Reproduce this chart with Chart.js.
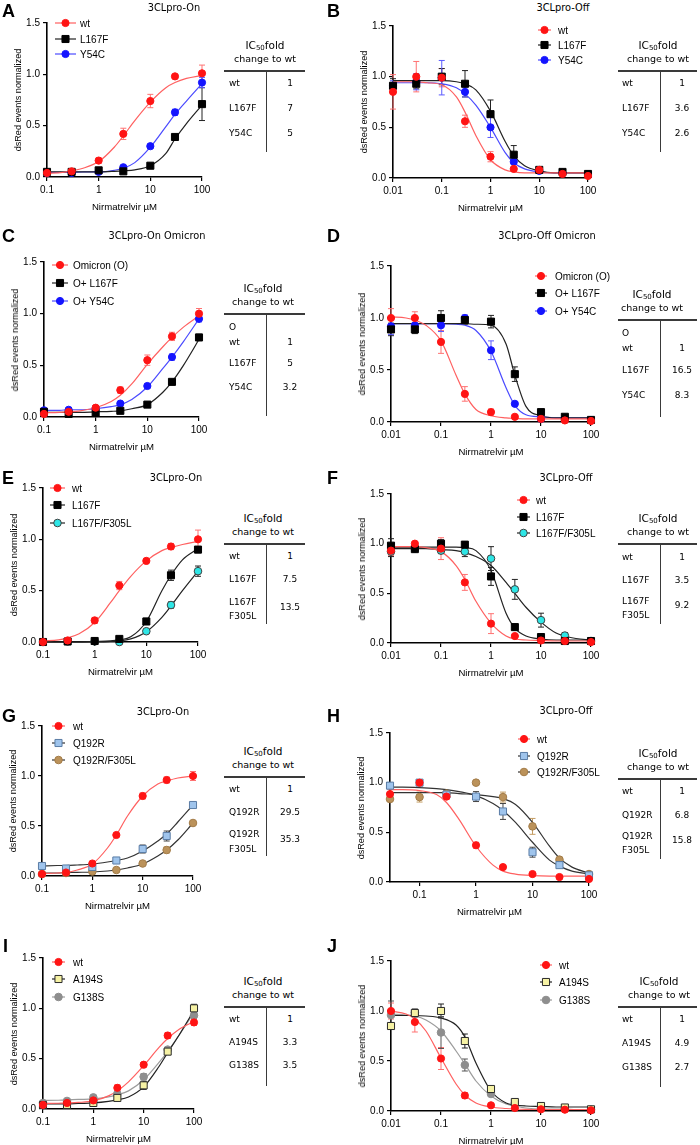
<!DOCTYPE html>
<html>
<head>
<meta charset="utf-8">
<script src="https://cdn.jsdelivr.net/npm/chart.js@4.4.0/dist/chart.umd.min.js"></script>
<style>
  body { margin: 0; width: 700px; height: 1145px; position: relative; overflow: hidden; background: #fff; font-family: "Liberation Sans", Arial, sans-serif; color: #000; }
  .abs { position: absolute; white-space: nowrap; }
  canvas { position: absolute; }
  .letter { font: bold 18px "Liberation Sans", Arial, sans-serif; line-height: 20px; transform: translateY(-50%); }
  .ttl { font: 9.8px "DejaVu Sans", sans-serif; transform: translate(-50%, -50%); }
  .xt { font: 9.6px "Liberation Sans", Arial, sans-serif; transform: translate(-50%, -50%); }
  .yt { font: 9.1px "Liberation Sans", Arial, sans-serif; transform: translate(-50%, -50%) rotate(-90deg); }
  .lg { font: 10px "Liberation Sans", Arial, sans-serif; transform: translateY(-50%); }
  .th1 { font: 10.5px "DejaVu Sans", sans-serif; transform: translate(-50%, -50%); }
  .th1 sub { font-size: 7px; vertical-align: -1px; }
  .th2 { font: 9.5px "DejaVu Sans", sans-serif; transform: translate(-50%, -50%); }
  .tr { font: 9px "DejaVu Sans", sans-serif; transform: translateY(-50%); }
  .tv { font: 9px "DejaVu Sans", sans-serif; transform: translate(-50%, -50%); }
  .rule { position: absolute; background: #3a3a3a; }
</style>
</head>
<body>
<script>
// concentrations (µM)
const onX = [0.1, 0.3, 1, 3, 10, 30, 100];
const offX = [0.01, 0.03, 0.1, 0.3, 1, 3, 10, 30, 100];
const offXH = [0.03, 0.1, 0.3, 1, 3, 10, 30, 100];
// x positions at which the fitted curves were read
const onFitX = [0.1, 0.2, 0.3, 0.5, 1, 2, 3, 5, 10, 20, 30, 50, 100];
const offFitX = [0.01, 0.02, 0.03, 0.05, 0.1, 0.2, 0.3, 0.5, 1, 2, 3, 5, 10, 20, 30, 50, 100];
const offFitXH = [0.03, 0.05, 0.1, 0.2, 0.3, 0.5, 1, 2, 3, 5, 10, 20, 30, 50, 100];
const onTicks = [0.1, 1, 10, 100];
const offTicks = [0.01, 0.1, 1, 10, 100];
const hTicks = [0.1, 1, 10, 100];
const yTicks = [0, 0.5, 1, 1.5];

// A - 3CLpro-On
const aWt = [0.04, 0.055, 0.16, 0.42, 0.74, 0.98, 1.01];
const aWtErr = [0.01, 0.01, 0.025, 0.055, 0.065, 0.015, 0.08];
const aWtFit = [0.035, 0.045, 0.06, 0.085, 0.15, 0.29, 0.40, 0.55, 0.73, 0.87, 0.92, 0.96, 0.99];
const aL167F = [0.05, 0.05, 0.065, 0.055, 0.11, 0.39, 0.71];
const aL167FErr = [0.01, 0.01, 0.01, 0.01, 0.01, 0.015, 0.16];
const aL167FFit = [0.05, 0.05, 0.05, 0.05, 0.05, 0.055, 0.06, 0.07, 0.11, 0.23, 0.37, 0.52, 0.70];
const aY54C = [0.04, 0.04, 0.05, 0.095, 0.30, 0.63, 0.92];
const aY54CErr = [0.01, 0.01, 0.01, 0.01, 0.02, 0.03, 0.05];
const aY54CFit = [0.045, 0.045, 0.045, 0.05, 0.05, 0.065, 0.085, 0.14, 0.29, 0.49, 0.61, 0.74, 0.91];

// B - 3CLpro-Off
const bWt = [0.85, 1.0, 0.99, 0.56, 0.21, 0.09, 0.08, 0.04, 0.02];
const bWtErr = [0.17, 0.15, 0.09, 0.06, 0.05, 0.01, 0.01, 0.01, 0.01];
const bWtFit = [0.95, 0.95, 0.95, 0.94, 0.92, 0.80, 0.65, 0.42, 0.18, 0.08, 0.06, 0.05, 0.05, 0.05, 0.05, 0.05, 0.05];
const bL167F = [0.91, 0.93, 1.0, 0.93, 0.63, 0.23, 0.08, 0.06, 0.04];
const bL167FErr = [0.07, 0.05, 0.08, 0.13, 0.14, 0.09, 0.02, 0.01, 0.01];
const bL167FFit = [0.96, 0.96, 0.96, 0.96, 0.96, 0.95, 0.93, 0.87, 0.66, 0.36, 0.22, 0.12, 0.07, 0.05, 0.05, 0.05, 0.05];
const bY54C = [0.91, 0.95, 0.99, 0.85, 0.50, 0.16, 0.07, 0.05, 0.04];
const bY54CErr = [0.05, 0.08, 0.17, 0.05, 0.10, 0.02, 0.01, 0.01, 0.01];
const bY54CFit = [0.94, 0.94, 0.94, 0.94, 0.93, 0.89, 0.83, 0.72, 0.50, 0.25, 0.15, 0.09, 0.06, 0.05, 0.05, 0.05, 0.05];

// C - 3CLpro-On Omicron
const cO = [0.03, 0.05, 0.09, 0.26, 0.55, 0.78, 1.0];
const cOErr = [0.01, 0.01, 0.01, 0.03, 0.05, 0.04, 0.05];
const cOFit = [0.04, 0.045, 0.05, 0.06, 0.09, 0.15, 0.21, 0.32, 0.51, 0.68, 0.77, 0.87, 0.98];
const cL167F = [0.05, 0.03, 0.04, 0.06, 0.12, 0.34, 0.77];
const cL167FErr = [0.01, 0.01, 0.01, 0.01, 0.01, 0.02, 0.03];
const cL167FFit = [0.045, 0.045, 0.045, 0.045, 0.05, 0.055, 0.06, 0.08, 0.12, 0.24, 0.34, 0.50, 0.75];
const cY54C = [0.065, 0.07, 0.085, 0.13, 0.30, 0.58, 0.95];
const cY54CErr = [0.01, 0.01, 0.01, 0.01, 0.02, 0.03, 0.03];
const cY54CFit = [0.065, 0.065, 0.07, 0.07, 0.08, 0.10, 0.12, 0.17, 0.29, 0.47, 0.58, 0.73, 0.95];

// D - 3CLpro-Off Omicron
const dO = [1.0, 1.0, 0.77, 0.27, 0.095, 0.05, 0.03, 0.015, 0.01];
const dOErr = [0.09, 0.06, 0.11, 0.07, 0.03, 0.01, 0.01, 0.01, 0.01];
const dOFit = [1.01, 1.0, 0.98, 0.93, 0.78, 0.45, 0.27, 0.12, 0.06, 0.04, 0.035, 0.03, 0.03, 0.03, 0.03, 0.03, 0.03];
const dL167F = [0.89, 0.89, 1.0, 0.98, 0.965, 0.46, 0.095, 0.05, 0.02];
const dL167FErr = [0.06, 0.04, 0.07, 0.04, 0.06, 0.07, 0.02, 0.01, 0.01];
const dL167FFit = [0.945, 0.945, 0.945, 0.945, 0.945, 0.945, 0.945, 0.94, 0.93, 0.75, 0.45, 0.15, 0.06, 0.04, 0.04, 0.04, 0.04];
const dY54C = [0.92, 0.93, 0.93, 1.0, 0.69, 0.175, 0.03, 0.04, 0.02];
const dY54CErr = [0.08, 0.02, 0.06, 0.03, 0.09, 0.02, 0.01, 0.01, 0.01];
const dY54CFit = [0.945, 0.945, 0.945, 0.945, 0.945, 0.94, 0.93, 0.88, 0.68, 0.33, 0.16, 0.07, 0.05, 0.04, 0.04, 0.04, 0.04];

// E - 3CLpro-On
const eWt = [0, 0.015, 0.21, 0.55, 0.79, 0.93, 1.0];
const eWtErr = [0.005, 0.01, 0.03, 0.04, 0.015, 0.03, 0.09];
const eWtFit = [0.01, 0.02, 0.04, 0.08, 0.19, 0.38, 0.50, 0.64, 0.79, 0.89, 0.92, 0.95, 0.98];
const eL167F = [0, 0.005, 0.01, 0.03, 0.20, 0.65, 0.90];
const eL167FErr = [0.005, 0.005, 0.005, 0.01, 0.03, 0.05, 0.03];
const eL167FFit = [0, 0, 0, 0, 0.005, 0.01, 0.02, 0.05, 0.20, 0.50, 0.65, 0.80, 0.91];
const eF305L = [0, 0.005, 0.005, 0, 0.105, 0.36, 0.69];
const eF305LErr = [0, 0, 0, 0, 0.01, 0.03, 0.05];
const eF305LFit = [0, 0, 0, 0, 0, 0.005, 0.01, 0.03, 0.10, 0.24, 0.35, 0.50, 0.69];

// F - 3CLpro-Off
const fWt = [0.93, 1.0, 0.95, 0.61, 0.195, 0.07, 0.025, 0.02, 0.01];
const fWtErr = [0.05, 0.01, 0.11, 0.08, 0.10, 0.01, 0.01, 0.01, 0.01];
const fWtFit = [0.97, 0.97, 0.97, 0.96, 0.92, 0.78, 0.64, 0.42, 0.20, 0.07, 0.04, 0.03, 0.025, 0.02, 0.02, 0.02, 0.02];
const fL167F = [0.98, 0.945, 1.0, 0.99, 0.67, 0.16, 0.06, 0.02, 0.02];
const fL167FErr = [0.07, 0.02, 0.04, 0.03, 0.09, 0.03, 0.01, 0.01, 0.01];
const fL167FFit = [0.965, 0.965, 0.965, 0.965, 0.965, 0.965, 0.96, 0.93, 0.73, 0.30, 0.15, 0.07, 0.04, 0.03, 0.03, 0.03, 0.03];
const fF305L = [0.92, 0.95, 0.93, 0.92, 0.85, 0.54, 0.23, 0.075, 0.02];
const fF305LErr = [0.05, 0.02, 0.03, 0.05, 0.12, 0.10, 0.07, 0.03, 0.01];
const fF305LFit = [0.95, 0.95, 0.95, 0.95, 0.94, 0.93, 0.91, 0.87, 0.78, 0.61, 0.50, 0.36, 0.21, 0.10, 0.07, 0.045, 0.03];

// G - 3CLpro-On
const gWt = [0.02, 0.035, 0.125, 0.41, 0.80, 0.96, 1.0];
const gWtErr = [0.01, 0.01, 0.02, 0.015, 0.03, 0.03, 0.045];
const gWtFit = [0.025, 0.03, 0.035, 0.06, 0.12, 0.28, 0.41, 0.60, 0.80, 0.92, 0.95, 0.98, 1.0];
const gQ192R = [0.10, 0.075, 0.09, 0.155, 0.27, 0.40, 0.71];
const gQ192RErr = [0.01, 0.01, 0.02, 0.01, 0.04, 0.05, 0.015];
const gQ192RFit = [0.10, 0.105, 0.105, 0.11, 0.12, 0.14, 0.155, 0.18, 0.25, 0.35, 0.42, 0.54, 0.71];
const gF305L = [0.02, 0.03, 0.045, 0.06, 0.125, 0.26, 0.53];
const gF305LErr = [0.01, 0.01, 0.01, 0.01, 0.01, 0.03, 0.01];
const gF305LFit = [0.03, 0.03, 0.035, 0.037, 0.04, 0.05, 0.06, 0.08, 0.12, 0.20, 0.26, 0.36, 0.53];

// H - 3CLpro-Off
const hWt = [0.885, 1.0, 0.86, 0.37, 0.15, 0.08, 0.05, 0.03];
const hWtErr = [0.05, 0.02, 0.03, 0.03, 0.02, 0.01, 0.01, 0.01];
const hWtFit = [0.93, 0.93, 0.92, 0.88, 0.80, 0.63, 0.36, 0.17, 0.11, 0.08, 0.065, 0.06, 0.06, 0.06, 0.06];
const hQ192R = [0.97, 1.0, 0.88, 0.86, 0.71, 0.30, 0.17, 0.067];
const hQ192RErr = [0.02, 0.01, 0.04, 0.05, 0.08, 0.05, 0.01, 0.01];
const hQ192RFit = [0.955, 0.955, 0.95, 0.94, 0.93, 0.91, 0.87, 0.79, 0.72, 0.60, 0.40, 0.22, 0.16, 0.11, 0.08];
const hF305L = [0.835, 0.855, 0.89, 1.0, 0.855, 0.56, 0.225, 0.08];
const hF305LErr = [0.02, 0.05, 0.02, 0.01, 0.05, 0.08, 0.01, 0.01];
const hF305LFit = [0.90, 0.90, 0.90, 0.90, 0.90, 0.89, 0.88, 0.86, 0.84, 0.78, 0.60, 0.36, 0.24, 0.15, 0.09];

// I
const iWt = [0.04, 0.06, 0.085, 0.21, 0.44, 0.73, 0.86];
const iWtErr = [0.01, 0.01, 0.01, 0.03, 0.02, 0.03, 0.03];
const iWtFit = [0.055, 0.057, 0.06, 0.065, 0.08, 0.13, 0.18, 0.27, 0.43, 0.61, 0.70, 0.79, 0.87];
const iA194S = [0.04, 0.04, 0.06, 0.11, 0.235, 0.57, 1.0];
const iA194SErr = [0.01, 0.01, 0.01, 0.01, 0.04, 0.03, 0.04];
const iA194SFit = [0.05, 0.05, 0.05, 0.055, 0.06, 0.075, 0.09, 0.12, 0.22, 0.42, 0.56, 0.73, 0.98];
const iG138S = [0.06, 0.08, 0.115, 0.15, 0.32, 0.59, 0.93];
const iG138SErr = [0.01, 0.01, 0.01, 0.01, 0.03, 0.02, 0.03];
const iG138SFit = [0.085, 0.087, 0.09, 0.095, 0.10, 0.12, 0.14, 0.18, 0.29, 0.46, 0.57, 0.73, 0.96];

// J
const jWt = [1.0, 0.89, 0.525, 0.155, 0.057, 0.03, 0.017, 0.013, 0.007];
const jWtErr = [0.08, 0.10, 0.11, 0.03, 0.01, 0.01, 0.01, 0.01, 0.01];
const jWtFit = [1.0, 0.97, 0.92, 0.80, 0.53, 0.27, 0.16, 0.08, 0.04, 0.025, 0.02, 0.017, 0.015, 0.015, 0.015, 0.015, 0.015];
const jA194S = [0.85, 0.98, 1.0, 0.70, 0.22, 0.09, 0.05, 0.035, 0.017];
const jA194SErr = [0.03, 0.04, 0.07, 0.07, 0.02, 0.01, 0.01, 0.01, 0.01];
const jA194SFit = [0.955, 0.955, 0.955, 0.95, 0.93, 0.86, 0.74, 0.48, 0.20, 0.08, 0.06, 0.05, 0.045, 0.04, 0.04, 0.04, 0.04];
const jG138S = [0.96, 0.985, 0.785, 0.46, 0.17, 0.08, 0.04, 0.02, 0.013];
const jG138SErr = [0.14, 0.03, 0.16, 0.06, 0.02, 0.01, 0.01, 0.01, 0.01];
const jG138SFit = [0.97, 0.96, 0.95, 0.91, 0.80, 0.60, 0.47, 0.30, 0.15, 0.07, 0.05, 0.03, 0.02, 0.02, 0.02, 0.015, 0.015];

// IC50 tables
const tblLabels3 = (a, b) => [["wt"], [a], [b]];
const aRows = tblLabels3("L167F", "Y54C"), aVals = ["1", "7", "5"];
const bRows = tblLabels3("L167F", "Y54C"), bVals = ["1", "3.6", "2.6"];
const cRows = [["O", "wt"], ["L167F"], ["Y54C"]], cVals = ["1", "5", "3.2"];
const dRows = [["O", "wt"], ["L167F"], ["Y54C"]], dVals = ["1", "16.5", "8.3"];
const eRows = [["wt"], ["L167F"], ["L167F", "F305L"]], eVals = ["1", "7.5", "13.5"];
const fRows = [["wt"], ["L167F"], ["L167F", "F305L"]], fVals = ["1", "3.5", "9.2"];
const gRows = [["wt"], ["Q192R"], ["Q192R", "F305L"]], gVals = ["1", "29.5", "35.3"];
const hRows = [["wt"], ["Q192R"], ["Q192R", "F305L"]], hVals = ["1", "6.8", "15.8"];
const iRows = tblLabels3("A194S", "G138S"), iVals = ["1", "3.3", "3.5"];
const jRows = tblLabels3("A194S", "G138S"), jVals = ["1", "4.9", "2.7"];

// marker styles
const sty = {
  red:    { fill: "#ff1414", edge: "#ff1414", line: "#ff6060", err: "#ff7272", shape: "circle", r: 3.6 },
  black:  { fill: "#000000", edge: "#000000", line: "#222222", err: "#222222", shape: "rect", r: 5 },
  blue:   { fill: "#1414ff", edge: "#1414ff", line: "#4a4aff", err: "#5a5aff", shape: "circle", r: 3.6 },
  cyan:   { fill: "#2ee6e6", edge: "#404040", line: "#222222", err: "#222222", shape: "circle", r: 3.8 },
  lblue:  { fill: "#9fc4ec", edge: "#5b7da6", line: "#333333", err: "#444444", shape: "rect", r: 5 },
  tan:    { fill: "#bb925a", edge: "#a37c48", line: "#333333", err: "#c49c62", shape: "circle", r: 3.8 },
  yellow: { fill: "#f6f2a4", edge: "#2a2a2a", line: "#222222", err: "#222222", shape: "rect", r: 5 },
  gray:   { fill: "#8e8e8e", edge: "#8e8e8e", line: "#9c9c9c", err: "#555555", shape: "circle", r: 3.8 },
};

const panels = [
  { letter: "A", lx: 2, ly: 11, title: "3CLpro-On", tx: 174, ty: 7, plot: [47, 23, 202, 177], xMin: 0.1, ticks: onTicks,
    series: [
      { name: "wt", s: "red", x: onX, y: aWt, e: aWtErr, fx: onFitX, fy: aWtFit },
      { name: "L167F", s: "black", x: onX, y: aL167F, e: aL167FErr, fx: onFitX, fy: aL167FFit },
      { name: "Y54C", s: "blue", x: onX, y: aY54C, e: aY54CErr, fx: onFitX, fy: aY54CFit },
    ],
    legend: { x: 55, w: 21, tx: 80, ys: [23, 39, 54] },
    table: { side: "L", hy: 71, hx: 265, bottom: 81, rows: aRows, vals: aVals, ry: [[12], [37], [62]], vy: [12, 37, 62] } },
  { letter: "B", lx: 327, ly: 11, title: "3CLpro-Off", tx: 563, ty: 7, plot: [393, 26, 588, 178], xMin: 0.01, ticks: offTicks,
    series: [
      { name: "wt", s: "red", x: offX, y: bWt, e: bWtErr, fx: offFitX, fy: bWtFit },
      { name: "L167F", s: "black", x: offX, y: bL167F, e: bL167FErr, fx: offFitX, fy: bL167FFit },
      { name: "Y54C", s: "blue", x: offX, y: bY54C, e: bY54CErr, fx: offFitX, fy: bY54CFit },
    ],
    legend: { x: 538, w: 13, tx: 558, ys: [30, 45, 60] },
    table: { side: "R", hy: 71, hx: 658, bottom: 81, rows: bRows, vals: bVals, ry: [[12], [37], [62]], vy: [12, 37, 62] } },
  { letter: "C", lx: 2, ly: 236, title: "3CLpro-On Omicron", tx: 157, ty: 235, plot: [44, 262, 199, 417], xMin: 0.1, ticks: onTicks,
    series: [
      { name: "Omicron (O)", s: "red", x: onX, y: cO, e: cOErr, fx: onFitX, fy: cOFit },
      { name: "O+ L167F", s: "black", x: onX, y: cL167F, e: cL167FErr, fx: onFitX, fy: cL167FFit },
      { name: "O+ Y54C", s: "blue", x: onX, y: cY54C, e: cY54CErr, fx: onFitX, fy: cY54CFit },
    ],
    legend: { x: 52, w: 16, tx: 73, ys: [265, 283, 301] },
    table: { side: "L", hy: 314, hx: 263, bottom: 102, rows: cRows, vals: cVals, ry: [[13, 27.5], [48.5], [73]], vy: [27.5, 48.5, 73] } },
  { letter: "D", lx: 327, ly: 236, title: "3CLpro-Off Omicron", tx: 547, ty: 235, plot: [391, 266, 591, 422], xMin: 0.01, ticks: offTicks,
    series: [
      { name: "Omicron (O)", s: "red", x: offX, y: dO, e: dOErr, fx: offFitX, fy: dOFit },
      { name: "O+ L167F", s: "black", x: offX, y: dL167F, e: dL167FErr, fx: offFitX, fy: dL167FFit },
      { name: "O+ Y54C", s: "blue", x: offX, y: dY54C, e: dY54CErr, fx: offFitX, fy: dY54CFit },
    ],
    legend: { x: 535, w: 12, tx: 555, ys: [276, 293, 311] },
    table: { side: "R", hy: 320, hx: 652, bottom: 97, rows: dRows, vals: dVals, ry: [[12.5, 27.7], [50], [75]], vy: [27.7, 50, 75] } },
  { letter: "E", lx: 2, ly: 478, title: "3CLpro-On", tx: 176, ty: 477, plot: [43, 488, 198, 642], xMin: 0.1, ticks: onTicks,
    series: [
      { name: "wt", s: "red", x: onX, y: eWt, e: eWtErr, fx: onFitX, fy: eWtFit },
      { name: "L167F", s: "black", x: onX, y: eL167F, e: eL167FErr, fx: onFitX, fy: eL167FFit },
      { name: "L167F/F305L", s: "cyan", x: onX, y: eF305L, e: eF305LErr, fx: onFitX, fy: eF305LFit },
    ],
    legend: { x: 50, w: 15, tx: 72, ys: [488, 505, 523] },
    table: { side: "L", hy: 544, hx: 263, bottom: 80, rows: eRows, vals: eVals, ry: [[12], [35.3], [57.7, 71.7]], vy: [12, 35.3, 62.7] } },
  { letter: "F", lx: 327, ly: 478, title: "3CLpro-Off", tx: 566, ty: 477, plot: [391, 494, 591, 643], xMin: 0.01, ticks: offTicks,
    series: [
      { name: "wt", s: "red", x: offX, y: fWt, e: fWtErr, fx: offFitX, fy: fWtFit },
      { name: "L167F", s: "black", x: offX, y: fL167F, e: fL167FErr, fx: offFitX, fy: fL167FFit },
      { name: "L167F/F305L", s: "cyan", x: offX, y: fF305L, e: fF305LErr, fx: offFitX, fy: fF305LFit },
    ],
    legend: { x: 517, w: 13, tx: 536, ys: [500, 517, 533] },
    table: { side: "R", hy: 544, hx: 658, bottom: 80, rows: fRows, vals: fVals, ry: [[13.4], [35.7], [57.4, 70.7]], vy: [13.4, 35.7, 61] } },
  { letter: "G", lx: 2, ly: 716, title: "3CLpro-On", tx: 163, ty: 711, plot: [42, 726, 193, 876], xMin: 0.1, ticks: onTicks,
    series: [
      { name: "wt", s: "red", x: onX, y: gWt, e: gWtErr, fx: onFitX, fy: gWtFit },
      { name: "Q192R", s: "lblue", x: onX, y: gQ192R, e: gQ192RErr, fx: onFitX, fy: gQ192RFit },
      { name: "Q192R/F305L", s: "tan", x: onX, y: gF305L, e: gF305LErr, fx: onFitX, fy: gF305LFit },
    ],
    legend: { x: 52, w: 13, tx: 73, ys: [726, 743, 760] },
    table: { side: "L", hy: 777, hx: 263, bottom: 79, rows: gRows, vals: gVals, ry: [[12.3], [35], [57.3, 71.6]], vy: [12.3, 35, 62.3] } },
  { letter: "H", lx: 327, ly: 716, title: "3CLpro-Off", tx: 566, ty: 710, plot: [390, 733, 589, 882], xMin: 0.03, ticks: hTicks,
    series: [
      { name: "wt", s: "red", x: offXH, y: hWt, e: hWtErr, fx: offFitXH, fy: hWtFit },
      { name: "Q192R", s: "lblue", x: offXH, y: hQ192R, e: hQ192RErr, fx: offFitXH, fy: hQ192RFit },
      { name: "Q192R/F305L", s: "tan", x: offXH, y: hF305L, e: hF305LErr, fx: offFitXH, fy: hF305LFit },
    ],
    legend: { x: 518, w: 12, tx: 537, ys: [739, 756, 772] },
    table: { side: "R", hy: 779, hx: 658, bottom: 80, rows: hRows, vals: hVals, ry: [[12.4], [35.7], [57.4, 71.4]], vy: [12.4, 35.7, 61.4] } },
  { letter: "I", lx: 3, ly: 946, title: "", plot: [43, 958, 194, 1109], xMin: 0.1, ticks: onTicks,
    series: [
      { name: "wt", s: "red", x: onX, y: iWt, e: iWtErr, fx: onFitX, fy: iWtFit },
      { name: "A194S", s: "yellow", x: onX, y: iA194S, e: iA194SErr, fx: onFitX, fy: iA194SFit },
      { name: "G138S", s: "gray", x: onX, y: iG138S, e: iG138SErr, fx: onFitX, fy: iG138SFit },
    ],
    legend: { x: 52, w: 13, tx: 73, ys: [962, 979, 997] },
    table: { side: "L", hy: 1007, hx: 263, bottom: 79, rows: iRows, vals: iVals, ry: [[12.3], [35], [58.3]], vy: [12.3, 35, 58.3] } },
  { letter: "J", lx: 327, ly: 946, title: "", plot: [391, 961, 591, 1111], xMin: 0.01, ticks: offTicks,
    series: [
      { name: "wt", s: "red", x: offX, y: jWt, e: jWtErr, fx: offFitX, fy: jWtFit },
      { name: "A194S", s: "yellow", x: offX, y: jA194S, e: jA194SErr, fx: offFitX, fy: jA194SFit },
      { name: "G138S", s: "gray", x: offX, y: jG138S, e: jG138SErr, fx: offFitX, fy: jG138SFit },
    ],
    legend: { x: 540, w: 12, tx: 559, ys: [965, 982, 1000] },
    table: { side: "R", hy: 1007, hx: 659, bottom: 80, rows: jRows, vals: jVals, ry: [[12.3], [36], [60]], vy: [12.3, 36, 60] } },
];

function txt(cls, s, x, y, html) {
  const d = document.createElement("div");
  d.className = "abs " + cls;
  d.style.left = x + "px";
  d.style.top = y + "px";
  if (html) d.innerHTML = s; else d.textContent = s;
  document.body.appendChild(d);
  return d;
}
function rule(x, y, w, h) {
  const d = document.createElement("div");
  d.className = "rule";
  Object.assign(d.style, { left: x + "px", top: y + "px", width: w + "px", height: h + "px" });
  document.body.appendChild(d);
}

// error bars under the points
const errorBars = {
  id: "errorBars",
  beforeDatasetsDraw(chart) {
    const { ctx, scales: { x, y } } = chart;
    chart.data.datasets.forEach(ds => {
      if (!ds.err) return;
      ctx.save();
      ctx.strokeStyle = ds.errColor;
      ctx.lineWidth = 1;
      ds.data.forEach((p, i) => {
        const e = ds.err[i];
        if (!e) return;
        const px = x.getPixelForValue(p.x);
        const y1 = y.getPixelForValue(p.y - e), y2 = y.getPixelForValue(p.y + e);
        ctx.beginPath();
        ctx.moveTo(px, y1); ctx.lineTo(px, y2);
        ctx.moveTo(px - 3, y1); ctx.lineTo(px + 3, y1);
        ctx.moveTo(px - 3, y2); ctx.lineTo(px + 3, y2);
        ctx.stroke();
      });
      ctx.restore();
    });
  }
};

// legend symbols (line with marker); labels are html
const markerLegend = {
  id: "markerLegend",
  afterDraw(chart, args, o) {
    const ctx = chart.ctx;
    chart.data.datasets.filter(d => d.err).forEach((ds, i) => {
      const yy = o.ys[i];
      ctx.save();
      ctx.strokeStyle = ds.lineColor;
      ctx.lineWidth = 1.2;
      ctx.beginPath();
      ctx.moveTo(o.x, yy); ctx.lineTo(o.x + o.w, yy);
      ctx.stroke();
      ctx.fillStyle = ds.pointBackgroundColor;
      ctx.strokeStyle = ds.pointBorderColor;
      ctx.lineWidth = 1;
      Chart.helpers.drawPoint(ctx, { pointStyle: ds.pointStyle, radius: ds.pointRadius, rotation: 0, borderWidth: 1 }, o.x + o.w / 2, yy);
      ctx.restore();
    });
  }
};

const YW = 48, PT = 12, PR = 12, XH = 24;
const tickFont = { family: "Liberation Sans", size: 10 };

panels.forEach(p => {
  const [l, t, r, b] = p.plot;
  const cx = l - YW, cy = t - PT;
  const cv = document.createElement("canvas");
  cv.width = YW + (r - l) + PR;
  cv.height = PT + (b - t) + XH;
  cv.style.left = cx + "px";
  cv.style.top = cy + "px";
  document.body.appendChild(cv);

  const pointSets = p.series.map(se => {
    const s = sty[se.s];
    return {
      label: se.name,
      data: se.x.map((x, i) => ({ x, y: se.y[i] })),
      err: se.e, errColor: s.err, lineColor: s.line,
      showLine: false, pointStyle: s.shape, pointRadius: s.r,
      pointBackgroundColor: s.fill, pointBorderColor: s.edge, pointBorderWidth: 1,
      clip: false, order: 0,
    };
  });
  const fitSets = p.series.map(se => ({
    label: se.name + " fit",
    data: se.fx.map((x, i) => ({ x, y: se.fy[i] })),
    showLine: true, pointRadius: 0, borderColor: sty[se.s].line, borderWidth: 1.2,
    cubicInterpolationMode: "monotone", clip: false, order: 1,
  }));

  const axisGrid = { display: true, drawOnChartArea: false, drawTicks: true, tickLength: 4, color: "#000", lineWidth: 1.2 };
  const axisBorder = { display: true, color: "#000", width: 1.6 };

  new Chart(cv, {
    type: "scatter",
    data: { datasets: [...pointSets, ...fitSets] },
    options: {
      responsive: false,
      animation: false,
      events: [],
      layout: { padding: { left: 0, top: PT, right: PR, bottom: 0 } },
      plugins: {
        legend: { display: false },
        tooltip: { enabled: false },
        markerLegend: { x: p.legend.x - cx, w: p.legend.w, ys: p.legend.ys.map(v => v - cy) },
      },
      scales: {
        x: {
          type: "logarithmic", min: p.xMin, max: 100,
          afterBuildTicks: s => { s.ticks = p.ticks.map(v => ({ value: v })); },
          afterFit: s => { s.height = XH; },
          ticks: { callback: v => String(v), color: "#000", font: tickFont, padding: 3, maxRotation: 0, autoSkip: false },
          grid: axisGrid, border: axisBorder,
        },
        y: {
          min: 0, max: 1.5,
          afterBuildTicks: s => { s.ticks = yTicks.map(v => ({ value: v })); },
          afterFit: s => { s.width = YW; },
          ticks: { callback: v => Number(v).toFixed(1), color: "#000", font: tickFont, padding: 3 },
          grid: axisGrid, border: axisBorder,
        },
      },
    },
    plugins: [errorBars, markerLegend],
  });

  // texts
  txt("letter", p.letter, p.lx, p.ly);
  if (p.title) txt("ttl", p.title, p.tx, p.ty);
  txt("xt", "Nirmatrelvir µM", (l + r) / 2, b + 29);
  txt("yt", "dsRed events normalized", l - 29, (t + b) / 2);
  p.series.forEach((se, i) => txt("lg", se.name, p.legend.tx, p.legend.ys[i]));

  // IC50 table
  const tb = p.table;
  const g = tb.side === "L" ? { x1: 224, x2: 305, vx: 266, lx: 229, vcx: 290 } : { x1: 618, x2: 697, vx: 660, lx: 622, vcx: 682 };
  rule(g.x1, tb.hy - 0.7, g.x2 - g.x1, 1.4);
  rule(g.vx, tb.hy, 1.4, tb.bottom);
  txt("th1", "IC<sub>50</sub>fold", tb.hx, tb.hy - 26, true);
  txt("th2", "change to wt", tb.hx, tb.hy - 13);
  tb.rows.forEach((lines, i) => {
    lines.forEach((s, k) => txt("tr", s, g.lx, tb.hy + tb.ry[i][k]));
    txt("tv", tb.vals[i], g.vcx, tb.hy + tb.vy[i]);
  });
});
</script>
</body>
</html>
